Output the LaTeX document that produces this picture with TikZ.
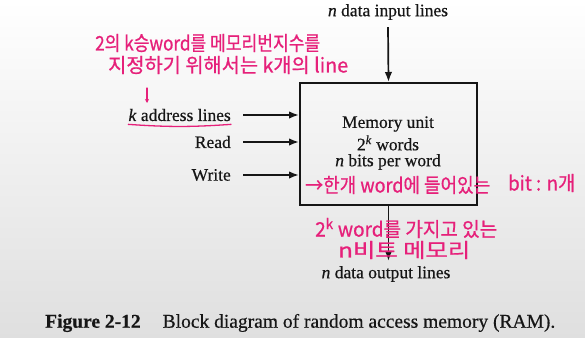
\documentclass[tikz,border=0pt]{standalone}
\usepackage{fontspec}
\setmainfont{Liberation Serif}
\newfontfamily\book{Liberation Serif}[FakeBold=0.5]
\newfontfamily\hand{Noto Sans CJK KR}[FakeBold=0.8]
\usetikzlibrary{arrows.meta,calc}
\definecolor{ink}{RGB}{22,22,22}
\definecolor{marker}{RGB}{230,32,122}
% stretch a handwritten note horizontally to a given width
\newcommand{\hw}[2]{\resizebox{#1}{\height}{#2}}

\begin{document}
\begin{tikzpicture}[x=1pt,y=-1pt,
  lbl/.style={font=\book\fontsize{17.5}{20}\selectfont, text=ink, inner sep=0pt},
  wire/.style={draw=ink, line width=1.7pt, -{Latex[length=10pt,width=7.5pt]}},
  note/.style={text=marker, font=\hand\fontsize{20}{22}\selectfont, inner sep=0pt},
  pen/.style={draw=marker, line width=1.3pt, line cap=round}]
\useasboundingbox (0,0) rectangle (585,337);
\shade[top color=white, bottom color=gray!25] (0,0) rectangle (585,337);

% memory block
\node[draw=ink, line width=2pt, minimum width=177pt, minimum height=122pt, inner sep=0pt] (mem) at (388.5,144) {};
\node[lbl] (unit) at (388,124) {Memory unit};
\node[lbl] (words) at (388,143) {2\textsuperscript{\textit{k}} words};
\node[lbl] (bits) at (388,162) {\textit{n} bits per word};

% signal labels
\node[lbl] (din) at (388,12) {\textit{n} data input lines};
\node[lbl] (dout) at (386,274) {\textit{n} data output lines};
\node[lbl, anchor=east] (addr) at (231,115) {\textit{k} address lines};
\node[lbl, anchor=east] (rd) at (231,142) {Read};
\node[lbl, anchor=east] (wr) at (231,175) {Write};

% signal lines
\draw[wire] (din.south) ++(0,7) -- (mem.north);
\draw[wire] (addr.east) ++(12,0) -- (addr -| mem.west);
\draw[wire] (rd.east) ++(12,0) -- (rd -| mem.west);
\draw[wire] (wr.east) ++(12,0) -- (wr -| mem.west);
\draw[wire] (mem.south) -- ($(mem.south |- dout.north)+(0,-5)$);

% handwritten notes
\node[note, anchor=west] (n1) at (95,43) {\hw{225pt}{2의 k승word를 메모리번지수를}};
\node[note, anchor=west] (n2) at (108,65) {\hw{240pt}{지정하기 위해서는 k개의 line}};
\node[note, anchor=west] (n3) at (305,185) {\hw{185pt}{→한개 word에 들어있는}};
\node[note, anchor=west] (n3b) at (508,183) {\hw{67pt}{bit : n개}};
\node[note, anchor=west] (n4) at (315,228) {\hw{182pt}{2\textsuperscript{k} word를 가지고 있는}};
\node[note, anchor=west] (n5) at (338,250) {\hw{132pt}{n비트 메모리}};
\coordinate (tick) at (147,88);
\draw[pen, -{Stealth[length=4pt,width=4pt]}] (tick) -- ++(0,15);
\draw[pen] ([yshift=-3pt]addr.south west) to[bend right=4] ([yshift=-3pt]addr.south east);

% caption
\node[font=\book\fontsize{19.5}{22}\selectfont, text=ink, anchor=west, inner sep=0pt] (cap) at (45,323)
  {\textbf{Figure 2-12}\hspace{22pt}Block diagram of random access memory (RAM).};
\end{tikzpicture}
\end{document}
